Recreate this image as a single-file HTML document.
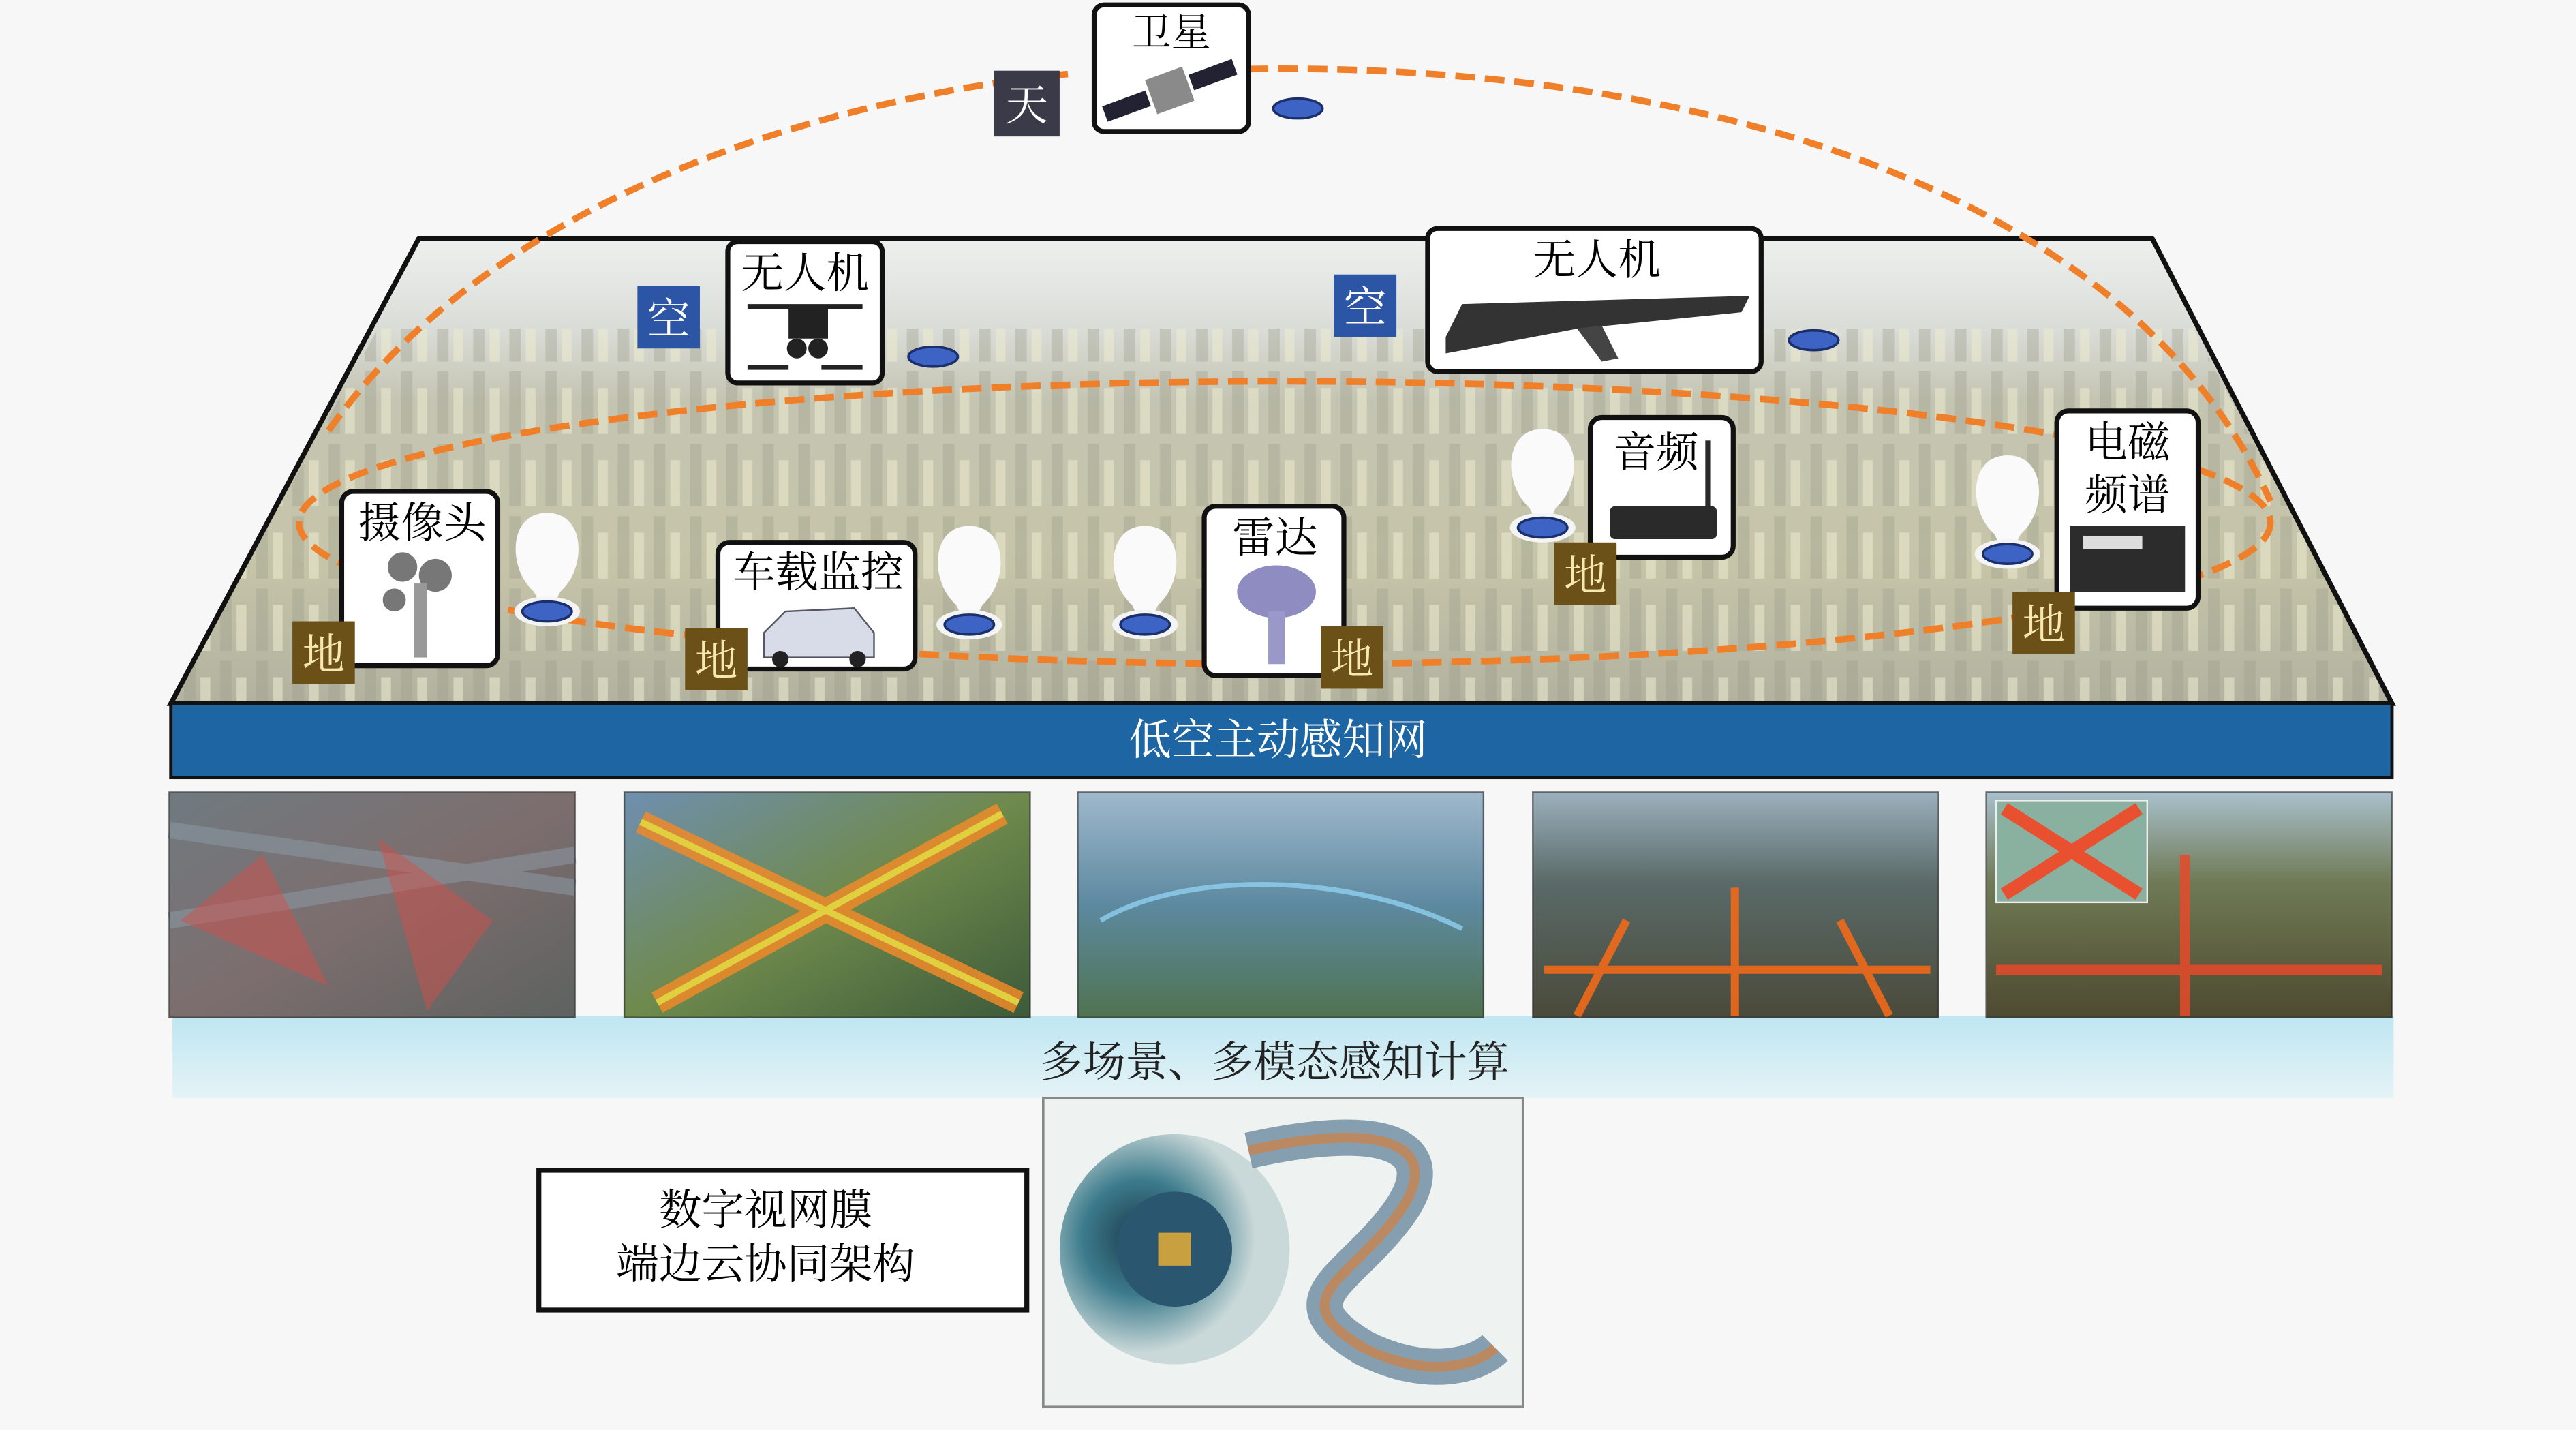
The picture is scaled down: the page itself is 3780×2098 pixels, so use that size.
<!DOCTYPE html>
<html><head><meta charset="utf-8">
<style>
html,body{margin:0;padding:0;background:#f7f7f7;}
svg{display:block;}
text{font-family:"Liberation Serif","Noto Serif CJK SC","Noto Sans CJK SC",serif;}
</style></head>
<body>
<svg width="3780" height="2098" viewBox="0 0 1568 870" preserveAspectRatio="none" xmlns="http://www.w3.org/2000/svg">
<defs>
<linearGradient id="city" x1="0" y1="0" x2="0" y2="1">
<stop offset="0" stop-color="#eef0ef"/>
<stop offset="0.2" stop-color="#d9dcd6"/>
<stop offset="0.35" stop-color="#c4c4b2"/>
<stop offset="0.7" stop-color="#c6c4a8"/>
<stop offset="1" stop-color="#b2b2a0"/>
</linearGradient>
<pattern id="bld" width="22" height="44" patternUnits="userSpaceOnUse">
<rect x="2" y="6" width="7" height="38" fill="#9a9a8a" opacity="0.35"/>
<rect x="12" y="16" width="6" height="28" fill="#ecead0" opacity="0.55"/>
</pattern>
<linearGradient id="p1" x1="0" y1="0" x2="1" y2="1"><stop offset="0" stop-color="#6f7a80"/><stop offset="0.5" stop-color="#7d6e6e"/><stop offset="1" stop-color="#5d6260"/></linearGradient>
<linearGradient id="p2" x1="0" y1="0" x2="1" y2="1"><stop offset="0" stop-color="#6f8fb0"/><stop offset="0.5" stop-color="#6f8a4c"/><stop offset="1" stop-color="#3c5a3a"/></linearGradient>
<linearGradient id="p3" x1="0" y1="0" x2="0" y2="1"><stop offset="0" stop-color="#9fb8cc"/><stop offset="0.5" stop-color="#5d89a0"/><stop offset="1" stop-color="#4f7350"/></linearGradient>
<linearGradient id="p4" x1="0" y1="0" x2="0" y2="1"><stop offset="0" stop-color="#9bb0bd"/><stop offset="0.4" stop-color="#5a6a68"/><stop offset="1" stop-color="#4a4a3a"/></linearGradient>
<linearGradient id="p5" x1="0" y1="0" x2="0" y2="1"><stop offset="0" stop-color="#a8c0cc"/><stop offset="0.4" stop-color="#6f7a55"/><stop offset="1" stop-color="#4e4a30"/></linearGradient>
<linearGradient id="band" x1="0" y1="0" x2="0" y2="1"><stop offset="0" stop-color="#bfe6f2"/><stop offset="1" stop-color="#e4f3f6"/></linearGradient>
<radialGradient id="eye" cx="0.35" cy="0.45" r="0.5"><stop offset="0" stop-color="#1b3a4a"/><stop offset="0.5" stop-color="#3c7b8c"/><stop offset="1" stop-color="#c9d8d8"/></radialGradient>
<g id="pin"><path d="M0,-56 C-24,-56 -24,-22 -8,-8 L0,8 L8,-8 C24,-22 24,-56 0,-56Z" fill="#fafafa"/><ellipse cx="0" cy="4" rx="20" ry="9" fill="#f4f4f4"/><ellipse cx="0" cy="4" rx="15" ry="6" fill="#3d63c4" stroke="#1a2f6b" stroke-width="1.5"/></g>
</defs>

<polygon points="255,145 1310,145 1456,428 104,428" fill="url(#city)"/>
<polygon points="230,200 1335,200 1456,428 104,428" fill="url(#bld)"/>
<polygon points="255,145 1310,145 1456,428 104,428" fill="none" stroke="#111" stroke-width="3"/>

<path d="M200,262 C300,120 500,60 650,45" fill="none" stroke="#f07f2a" stroke-width="4" stroke-dasharray="12,6"/>
<path d="M760,42 C1000,38 1290,100 1382,305" fill="none" stroke="#f07f2a" stroke-width="4" stroke-dasharray="12,6"/>
<ellipse cx="782" cy="318" rx="600" ry="86" fill="none" stroke="#f07f2a" stroke-width="4" stroke-dasharray="12,6"/>

<use href="#pin" x="333" y="368"/>
<use href="#pin" x="590" y="376"/>
<use href="#pin" x="697" y="376"/>
<use href="#pin" x="939" y="317"/>
<use href="#pin" x="1222" y="333"/>
<ellipse cx="568" cy="217" rx="15" ry="6" fill="#3d63c4" stroke="#1a2f6b" stroke-width="1.5"/>
<ellipse cx="790" cy="66" rx="15" ry="6" fill="#3d63c4" stroke="#1a2f6b" stroke-width="1.5"/>
<ellipse cx="1104" cy="207" rx="15" ry="6" fill="#3d63c4" stroke="#1a2f6b" stroke-width="1.5"/>

<rect x="666" y="3" width="94" height="77" rx="6" fill="#fff" stroke="#111" stroke-width="3"/>
<text x="713" y="28" font-size="24" text-anchor="middle">卫星</text>
<g transform="rotate(-20 712 55)"><rect x="670" y="50" width="28" height="10" fill="#223"/><rect x="726" y="50" width="28" height="10" fill="#223"/><rect x="700" y="44" width="24" height="22" fill="#8a8a8a"/></g>
<rect x="605" y="43" width="40" height="40" fill="#3a3a48"/>
<text x="625" y="73" font-size="26" fill="#fff" text-anchor="middle">天</text>

<rect x="443" y="147" width="94" height="86" rx="6" fill="#fff" stroke="#111" stroke-width="3"/>
<text x="490" y="175" font-size="26" text-anchor="middle">无人机</text>
<g fill="#222"><rect x="455" y="185" width="70" height="3"/><rect x="480" y="188" width="24" height="18"/><circle cx="485" cy="212" r="6"/><circle cx="498" cy="212" r="6"/><rect x="455" y="222" width="25" height="3"/><rect x="500" y="222" width="25" height="3"/></g>
<rect x="388" y="174" width="38" height="38" fill="#2d55a6"/>
<text x="407" y="203" font-size="26" fill="#fff" text-anchor="middle">空</text>

<rect x="869" y="139" width="203" height="87" rx="6" fill="#fff" stroke="#111" stroke-width="3"/>
<text x="972" y="167" font-size="26" text-anchor="middle">无人机</text>
<path d="M880,205 L890,185 L1065,180 L1060,190 L960,200 L880,215Z" fill="#333"/>
<path d="M960,200 L975,220 L985,218 L975,198Z" fill="#444"/>
<rect x="812" y="167" width="38" height="38" fill="#2d55a6"/>
<text x="831" y="196" font-size="26" fill="#fff" text-anchor="middle">空</text>

<rect x="208" y="299" width="95" height="106" rx="7" fill="#fff" stroke="#111" stroke-width="3"/>
<text x="257" y="327" font-size="26" text-anchor="middle">摄像头</text>
<g fill="#777"><circle cx="245" cy="345" r="9"/><circle cx="265" cy="350" r="10"/><circle cx="240" cy="365" r="7"/><rect x="252" y="355" width="8" height="45" fill="#999"/></g>
<rect x="178" y="378" width="38" height="38" fill="#6b5118"/>
<text x="197" y="407" font-size="26" fill="#f6e8b0" text-anchor="middle">地</text>

<rect x="437" y="330" width="120" height="77" rx="7" fill="#fff" stroke="#111" stroke-width="3"/>
<text x="498" y="357" font-size="26" text-anchor="middle">车载监控</text>
<path d="M465,400 L465,385 L478,372 L520,370 L532,385 L532,400Z" fill="#d8dbe8" stroke="#556" stroke-width="1"/>
<circle cx="475" cy="401" r="5" fill="#222"/><circle cx="522" cy="401" r="5" fill="#222"/>
<rect x="417" y="382" width="38" height="38" fill="#6b5118"/>
<text x="436" y="411" font-size="26" fill="#f6e8b0" text-anchor="middle">地</text>

<rect x="733" y="308" width="85" height="103" rx="7" fill="#fff" stroke="#111" stroke-width="3"/>
<text x="776" y="336" font-size="26" text-anchor="middle">雷达</text>
<ellipse cx="777" cy="360" rx="24" ry="16" fill="#8e8cc0"/><rect x="772" y="372" width="10" height="32" fill="#9a98c8"/>
<rect x="804" y="381" width="38" height="38" fill="#6b5118"/>
<text x="823" y="410" font-size="26" fill="#f6e8b0" text-anchor="middle">地</text>

<rect x="968" y="254" width="87" height="85" rx="7" fill="#fff" stroke="#111" stroke-width="3"/>
<text x="1008" y="284" font-size="26" text-anchor="middle">音频</text>
<rect x="980" y="308" width="65" height="20" rx="3" fill="#2a2a2a"/><rect x="1038" y="268" width="3" height="42" fill="#2a2a2a"/>
<rect x="946" y="330" width="38" height="38" fill="#6b5118"/>
<text x="965" y="359" font-size="26" fill="#f6e8b0" text-anchor="middle">地</text>

<rect x="1252" y="250" width="86" height="120" rx="7" fill="#fff" stroke="#111" stroke-width="3"/>
<text x="1295" y="278" font-size="26" text-anchor="middle">电磁</text>
<text x="1295" y="310" font-size="26" text-anchor="middle">频谱</text>
<rect x="1260" y="320" width="70" height="40" fill="#2c2c2c"/><rect x="1268" y="326" width="36" height="8" fill="#ddd"/>
<rect x="1225" y="360" width="38" height="38" fill="#6b5118"/>
<text x="1244" y="389" font-size="26" fill="#f6e8b0" text-anchor="middle">地</text>

<rect x="104" y="428" width="1352" height="45" fill="#1e65a3" stroke="#111" stroke-width="2"/>
<text x="778" y="459" font-size="26" fill="#fff" text-anchor="middle">低空主动感知网</text>

<rect x="105" y="618" width="1352" height="50" fill="url(#band)"/>
<text x="776" y="655" font-size="26" fill="#222" text-anchor="middle">多场景、多模态感知计算</text>

<rect x="103" y="482" width="247" height="137" fill="url(#p1)"/>
<path d="M103,505 L350,540 M103,560 L350,520" stroke="#8a96a0" stroke-width="10" opacity="0.6"/>
<path d="M110,560 L160,520 L200,600Z M230,510 L300,560 L260,615Z" fill="#d0504a" opacity="0.5"/>
<rect x="380" y="482" width="247" height="137" fill="url(#p2)"/>
<path d="M390,500 L620,610 M400,610 L610,495" stroke="#f08a2a" stroke-width="14" opacity="0.85"/>
<path d="M390,500 L620,610 M400,610 L610,495" stroke="#e0d040" stroke-width="4"/>
<rect x="656" y="482" width="247" height="137" fill="url(#p3)"/>
<path d="M670,560 C720,530 820,530 890,565" stroke="#8fd0f0" stroke-width="3" fill="none" opacity="0.8"/>
<rect x="933" y="482" width="247" height="137" fill="url(#p4)"/>
<path d="M940,590 L1175,590 M1056,540 L1056,618 M990,560 L960,618 M1120,560 L1150,618" stroke="#f06a1a" stroke-width="5" opacity="0.9"/>
<rect x="1209" y="482" width="247" height="137" fill="url(#p5)"/>
<path d="M1215,590 L1450,590 M1330,520 L1330,618" stroke="#e84a2a" stroke-width="6" opacity="0.85"/>
<rect x="1215" y="487" width="92" height="62" fill="#8ab0a0" stroke="#eee" stroke-width="1"/>
<path d="M1220,492 L1302,544 M1220,544 L1302,492" stroke="#e85030" stroke-width="8"/>
<g fill="none" stroke="#222" stroke-width="1" opacity="0.6"><rect x="103" y="482" width="247" height="137"/><rect x="380" y="482" width="247" height="137"/><rect x="656" y="482" width="247" height="137"/><rect x="933" y="482" width="247" height="137"/><rect x="1209" y="482" width="247" height="137"/></g>

<rect x="328" y="712" width="297" height="85" fill="#fff" stroke="#111" stroke-width="3"/>
<text x="466" y="745" font-size="26" text-anchor="middle">数字视网膜</text>
<text x="466" y="778" font-size="26" text-anchor="middle">端边云协同架构</text>

<rect x="635" y="668" width="292" height="188" fill="#eef2f0" stroke="#888" stroke-width="1.5"/>
<circle cx="715" cy="760" r="70" fill="url(#eye)"/>
<circle cx="715" cy="760" r="35" fill="#2b5670"/>
<rect x="705" y="750" width="20" height="20" fill="#c8a040"/>
<path d="M760,700 C850,680 880,700 850,740 C820,780 780,790 830,820 C870,840 900,830 910,820" fill="none" stroke="#6b8aa0" stroke-width="22" opacity="0.8"/>
<path d="M760,700 C850,680 880,700 850,740 C820,780 780,790 830,820 C870,840 900,830 910,820" fill="none" stroke="#d08040" stroke-width="6" opacity="0.7"/>
</svg>
</body></html>
